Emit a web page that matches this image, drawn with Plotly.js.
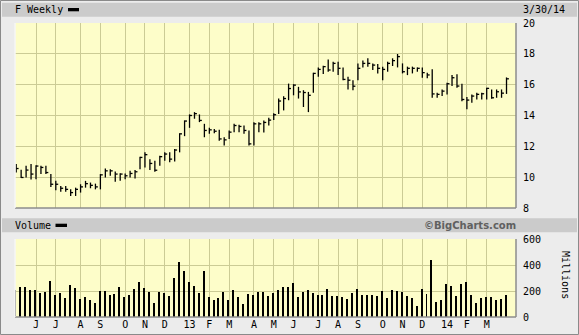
<!DOCTYPE html>
<html><head><meta charset="utf-8">
<script src="https://cdn.plot.ly/plotly-3.0.1.min.js"></script>
<style>html,body{margin:0;padding:0;background:#ececec;}#chart{width:579px;height:335px;}</style>
</head><body><div id="chart"></div>
<script>
// Weekly bars (dated by week-ending Sunday)
const weeks = ['2012-05-06','2012-05-13','2012-05-20','2012-05-27','2012-06-03','2012-06-10','2012-06-17','2012-06-24','2012-07-01','2012-07-08','2012-07-15','2012-07-22','2012-07-29','2012-08-05','2012-08-12','2012-08-19','2012-08-26','2012-09-02','2012-09-09','2012-09-16','2012-09-23','2012-09-30','2012-10-07','2012-10-14','2012-10-21','2012-10-28','2012-11-04','2012-11-11','2012-11-18','2012-11-25','2012-12-02','2012-12-09','2012-12-16','2012-12-23','2012-12-30',
'2013-01-06','2013-01-13','2013-01-20','2013-01-27','2013-02-03','2013-02-10','2013-02-17','2013-02-24','2013-03-03','2013-03-10','2013-03-17','2013-03-24','2013-03-31','2013-04-07','2013-04-14','2013-04-21','2013-04-28','2013-05-05','2013-05-12','2013-05-19','2013-05-26','2013-06-02','2013-06-09','2013-06-16','2013-06-23','2013-06-30','2013-07-07','2013-07-14','2013-07-21','2013-07-28','2013-08-04','2013-08-11','2013-08-18','2013-08-25','2013-09-01','2013-09-08','2013-09-15','2013-09-22','2013-09-29','2013-10-06','2013-10-13','2013-10-20','2013-10-27','2013-11-03','2013-11-10','2013-11-17','2013-11-24','2013-12-01','2013-12-08','2013-12-15','2013-12-22','2013-12-29',
'2014-01-05','2014-01-12','2014-01-19','2014-01-26','2014-02-02','2014-02-09','2014-02-16','2014-02-23','2014-03-02','2014-03-09','2014-03-16','2014-03-23','2014-03-30'];

const high = [10.85,10.48,10.74,10.85,10.78,10.74,10.74,10.20,9.76,9.43,9.43,9.21,9.32,9.54,9.76,9.65,9.58,10.20,10.56,10.52,10.37,10.26,10.24,10.41,10.46,
11.33,11.61,11.17,11.07,11.39,11.61,11.61,11.83,12.85,13.68,14.07,14.22,14.07,13.46,13.20,13.13,13.07,12.59,13.03,13.46,13.40,13.35,13.03,13.57,13.57,
13.68,13.85,14.15,15.10,15.25,16.07,16.03,15.86,15.64,15.53,16.77,17.12,17.23,17.64,17.49,17.49,17.12,16.51,16.29,17.38,17.56,17.71,17.38,17.34,17.17,
17.49,17.71,17.99,17.38,17.17,17.17,17.12,17.12,16.78,17.00,15.47,15.69,16.13,16.63,16.67,16.06,15.20,15.37,15.47,15.47,15.80,15.69,15.69,15.69,16.47];

const low = [10.30,9.95,9.98,9.85,9.87,10.20,10.20,9.37,9.15,9.06,9.06,8.78,8.78,9.00,9.32,9.28,9.21,9.21,9.98,10.09,9.71,9.76,9.87,9.98,9.91,
10.52,10.63,10.46,10.35,10.74,11.07,10.96,11.02,11.61,12.66,13.20,13.79,13.57,12.59,12.81,12.85,12.37,12.05,12.48,12.92,12.92,12.81,12.05,12.05,12.92,
12.90,13.35,13.70,14.10,14.33,14.99,15.31,15.10,14.55,14.22,15.47,16.51,16.69,16.84,16.84,16.62,16.29,15.68,15.64,16.29,17.12,17.17,16.95,16.73,16.29,
16.84,17.21,17.12,16.73,16.62,16.73,16.84,16.45,16.41,15.15,15.15,15.26,15.37,15.91,15.80,14.93,14.40,14.82,15.04,15.04,15.04,15.08,15.15,15.15,15.40];

const close = [10.56,9.98,10.46,10.20,10.72,10.63,10.30,9.54,9.54,9.28,9.21,9.00,9.21,9.37,9.58,9.47,9.37,10.15,10.41,10.41,10.20,10.20,10.09,10.24,10.35,
11.28,11.46,10.89,10.45,11.33,11.50,11.17,11.76,12.81,13.64,14.00,14.12,13.68,13.03,13.07,12.98,12.48,12.42,12.92,13.35,13.29,13.03,12.16,13.46,13.46,
13.55,13.70,14.05,14.94,15.10,15.75,15.97,15.53,15.49,15.31,16.73,16.99,17.17,16.95,17.38,17.06,16.34,16.29,15.90,17.06,17.38,17.38,17.27,17.06,16.99,
17.38,17.56,17.82,16.84,17.06,17.06,17.06,16.78,16.63,15.40,15.37,15.58,16.06,16.45,15.91,15.04,15.00,15.26,15.37,15.41,15.76,15.15,15.54,15.45,16.38];

// Volume, millions of shares
const volume = [205,229,229,205,205,182,190,275,166,182,143,244,221,135,151,127,104,197,197,166,174,229,151,166,213,
267,221,190,104,190,182,158,299,423,351,273,242,187,351,156,130,148,195,130,208,156,99,177,169,195,
190,161,182,205,229,229,260,151,190,205,182,166,166,213,158,158,151,135,182,213,166,166,166,158,197,
143,205,197,190,158,143,88,213,174,439,119,127,252,236,158,252,267,166,104,143,151,151,127,135,166];

const monthTickDates = ['2012-06-03','2012-07-01','2012-08-05','2012-09-02','2012-10-07','2012-11-04','2012-12-02','2013-01-06','2013-02-03','2013-03-03','2013-04-07','2013-05-05','2013-06-02','2013-07-07','2013-08-04','2013-09-01','2013-10-06','2013-11-03','2013-12-01','2014-01-05','2014-02-02','2014-03-02'];
const monthTickLabels = ['J','J','A','S','O','N','D','13','F','M','A','M','J','J','A','S','O','N','D','14','F','M'];
const priceTicks = [8,10,12,14,16,18,20];
const volumeTicks = [0,200,400,600];

const W = 579, H = 335, ML = 15, MR = 63;
const PW = W - ML - MR;
// paper coordinates are relative to the plot area (inside margins)
const px = x => (x - ML) / PW;
const py = y => 1 - y / H;
const DAY = 864e5;
const fmt = t => new Date(t).toISOString().slice(0,19).replace('T',' ');

// HLC bar path: vertical high-low line + close tick to the right
const bx = [], by = [];
weeks.forEach((d, i) => {
  const t = Date.parse(d + 'T00:00:00Z');
  bx.push(d, d, null, d, fmt(t + 3.4 * DAY), null);
  by.push(low[i], high[i], null, close[i], close[i], null);
});

const traces = [
  {type:'scatter', mode:'lines', x:bx, y:by, xaxis:'x', yaxis:'y',
   line:{color:'#000', width:1.3}, hoverinfo:'skip', connectgaps:false},
  {type:'bar', x:weeks, y:volume, xaxis:'x', yaxis:'y2',
   marker:{color:'#000', line:{width:0}}, width:2.8*DAY, offset:-2.5*DAY, hoverinfo:'skip'}
];

const grid = '#cbcb95';
const mono = 'DejaVu Sans Mono, monospace';
const frame = '#8c8c8c';

const layout = {
  width:W, height:H,
  margin:{l:ML, r:MR, t:0, b:0, pad:0},
  paper_bgcolor:'#ececec',
  plot_bgcolor:'#fdfdc9',
  showlegend:false,
  bargap:0,
  font:{family:mono, size:10, color:'#000'},
  xaxis:{type:'date', anchor:'y2', range:['2012-05-04 07:40','2014-04-12 10:00'],
    tickmode:'array', tickvals:monthTickDates, ticktext:monthTickLabels,
    showgrid:true, gridcolor:grid, gridwidth:1, ticks:'', showline:false, zeroline:false,
    tickfont:{family:mono, size:10, color:'#000'}, automargin:false, fixedrange:true},
  yaxis:{domain:[py(208), py(23)], range:[8,20], side:'right', tickmode:'array', tickvals:priceTicks,
    showgrid:true, gridcolor:grid, gridwidth:1, zeroline:false, ticks:'outside', ticklen:4, tickcolor:'rgba(0,0,0,0)',
    tickfont:{family:mono, size:10, color:'#000'}, automargin:false, showline:false},
  yaxis2:{domain:[py(317), py(239)], range:[0,600], side:'right', tickmode:'array', tickvals:volumeTicks,
    showgrid:true, gridcolor:grid, gridwidth:1, zeroline:false, ticks:'outside', ticklen:4, tickcolor:'rgba(0,0,0,0)',
    tickfont:{family:mono, size:10, color:'#000'}, automargin:false, showline:false},
  shapes:[
    // outer frame
    {type:'rect', xref:'paper', yref:'paper', x0:px(0.5), x1:px(578.5), y0:py(334.5), y1:py(0.5), line:{color:'#8a8a8a', width:1}, layer:'below'},
    // header bands
    {type:'rect', xref:'paper', yref:'paper', x0:px(2), x1:px(577), y0:py(16.7), y1:py(2.7), fillcolor:'#cbcbcb', line:{width:0}, layer:'below'},
    {type:'rect', xref:'paper', yref:'paper', x0:px(2), x1:px(577), y0:py(232.3), y1:py(218.3), fillcolor:'#cbcbcb', line:{width:0}, layer:'below'},
    // legend swatches
    {type:'rect', xref:'paper', yref:'paper', x0:px(68), x1:px(79), y0:py(11.3), y1:py(8), fillcolor:'#000', line:{width:0}},
    {type:'rect', xref:'paper', yref:'paper', x0:px(55.5), x1:px(67), y0:py(227), y1:py(223.7), fillcolor:'#000', line:{width:0}},
    // plot frames (shadowed bottom/right)
    {type:'line', xref:'x domain', yref:'y domain', x0:0, x1:1, y0:0, y1:0, line:{color:frame, width:1.5}},
    {type:'line', xref:'x domain', yref:'y domain', x0:1, x1:1, y0:0, y1:1, line:{color:frame, width:1.5}},
    {type:'line', xref:'x domain', yref:'y domain', x0:0, x1:0, y0:0, y1:1, line:{color:'#f6f6f6', width:1.5}},
    {type:'line', xref:'x domain', yref:'y2 domain', x0:0, x1:1, y0:0, y1:0, line:{color:frame, width:1.5}},
    {type:'line', xref:'x domain', yref:'y2 domain', x0:1, x1:1, y0:0, y1:1, line:{color:frame, width:1.5}},
    {type:'line', xref:'x domain', yref:'y2 domain', x0:0, x1:0, y0:0, y1:1, line:{color:'#f6f6f6', width:1.5}}
  ],
  annotations:[
    {xref:'paper', yref:'paper', x:px(13), y:py(9.8), xanchor:'left', yanchor:'middle', text:'F Weekly', showarrow:false,
     font:{family:mono, size:10, color:'#000'}},
    {xref:'paper', yref:'paper', x:px(567), y:py(9.8), xanchor:'right', yanchor:'middle', text:'3/30/14', showarrow:false,
     font:{family:mono, size:10, color:'#000'}},
    {xref:'paper', yref:'paper', x:px(13), y:py(225.5), xanchor:'left', yanchor:'middle', text:'Volume', showarrow:false,
     font:{family:mono, size:10, color:'#000'}},
    {xref:'paper', yref:'paper', x:px(518), y:py(225.5), xanchor:'right', yanchor:'middle', text:'©BigCharts.com', showarrow:false,
     font:{family:'DejaVu Sans, Verdana, sans-serif', size:10, color:'#606060', weight:'bold'}},
    {xref:'paper', yref:'paper', x:px(566), y:py(275), xanchor:'center', yanchor:'middle', text:'Millions', showarrow:false,
     textangle:90, font:{family:mono, size:10, color:'#000'}}
  ]
};

Plotly.newPlot('chart', traces, layout, {staticPlot:true, displayModeBar:false});
</script>
</body></html>
